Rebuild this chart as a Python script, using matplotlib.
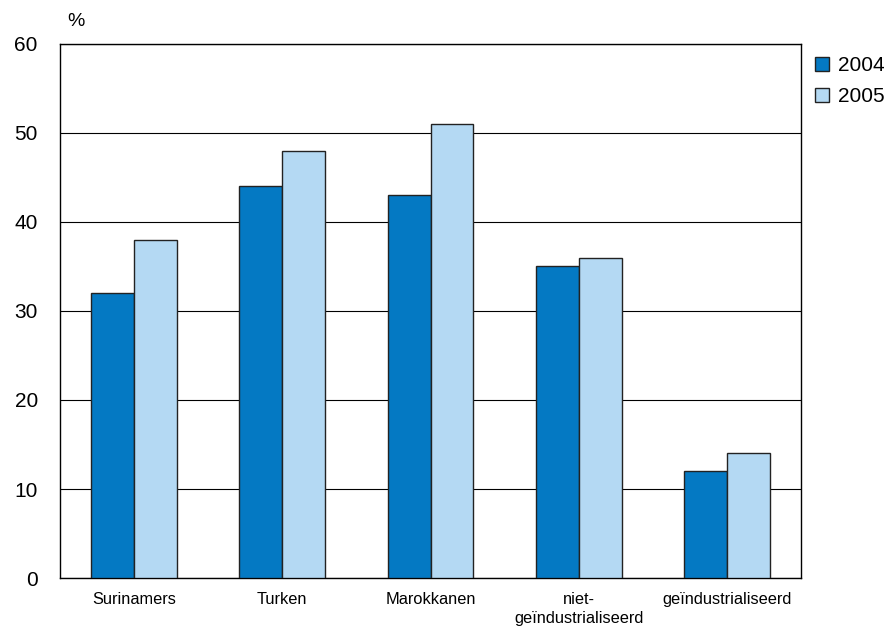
import numpy as np
import matplotlib
matplotlib.use("Agg")
import matplotlib.pyplot as plt
from matplotlib.patches import Patch

plt.rcParams['font.family'] = ['Liberation Sans', 'DejaVu Sans']

categories = ["Surinamers", "Turken", "Marokkanen", "niet-\ngeïndustrialiseerd", "geïndustrialiseerd"]
years = ["2004", "2005"]
values_2004 = [32, 44, 43, 35, 12]
values_2005 = [38, 48, 51, 36, 14]
colors = ["#0479c3", "#b4d9f3"]

fig = plt.figure(figsize=(8.93, 6.28), dpi=100)
ax = fig.add_axes([0.0672, 0.0796, 0.8298, 0.8504])

x = np.arange(len(categories))
w = 0.29
ax.bar(x - w / 2, values_2004, w, color=colors[0], edgecolor="#222222", linewidth=1, zorder=3)
ax.bar(x + w / 2, values_2005, w, color=colors[1], edgecolor="#222222", linewidth=1, zorder=3)

ax.set_xlim(-0.5, len(categories) - 0.5)
ax.set_ylim(0, 60)
ax.set_yticks(range(0, 61, 10))
ax.yaxis.grid(True, color="black", linewidth=0.8, zorder=0)
ax.set_xticks(x)
ax.set_xticklabels(categories, fontsize=11.8, va="top", linespacing=1.3)
ax.tick_params(axis="y", labelsize=15, length=0, pad=16)
ax.tick_params(axis="x", length=0, pad=10)
for s in ax.spines.values():
    s.set_color("black")
    s.set_linewidth(1)

fig.text(0.075, 0.965, "%", fontsize=14, va="center", ha="left")

handles = [Patch(facecolor=c, edgecolor="#222222", label=y) for c, y in zip(colors, years)]
fig.legend(handles=handles, loc="upper left", bbox_to_anchor=(0.913, 0.911), frameon=False,
           fontsize=15, handlelength=0.65, handleheight=0.65, handletextpad=0.45, labelspacing=0.6,
           borderaxespad=0, borderpad=0)

fig.savefig("out.png", dpi=100)
